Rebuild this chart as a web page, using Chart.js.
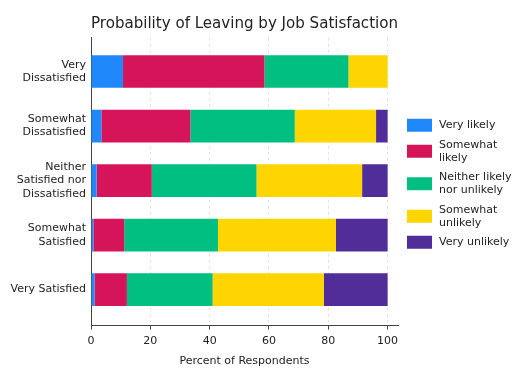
<!DOCTYPE html>
<html lang="en">
<head>
    <meta charset="UTF-8">
    <title>Probability of Leaving by Job Satisfaction</title>
    <script src="https://cdn.jsdelivr.net/npm/chart.js"></script>
    <style>
        html, body { margin: 0; padding: 0; background: #fff; }
        #wrap { width: 528px; height: 384px; position: relative; }
    </style>
</head>
<body>
<div id="wrap"><canvas id="chart"></canvas></div>
<script>
    // Data (percent of respondents)
    const categories = [
        ['Very', 'Dissatisfied'],
        ['Somewhat', 'Dissatisfied'],
        ['Neither', 'Satisfied nor', 'Dissatisfied'],
        ['Somewhat', 'Satisfied'],
        ['Very Satisfied']
    ];
    const seriesNames = [
        ['Very likely'],
        ['Somewhat', 'likely'],
        ['Neither likely', 'nor unlikely'],
        ['Somewhat', 'unlikely'],
        ['Very unlikely']
    ];
    const veryLikely       = [10.8, 3.5, 1.9, 0.8, 1.2];
    const somewhatLikely   = [47.7, 30.0, 18.6, 10.4, 10.9];
    const neither          = [28.3, 35.2, 35.3, 31.6, 28.9];
    const somewhatUnlikely = [13.2, 27.4, 35.6, 39.8, 37.5];
    const veryUnlikely     = [0.0, 3.9, 8.6, 17.4, 21.5];
    const xTicks = [0, 20, 40, 60, 80, 100];

    const colors = ['#1f88fb', '#d61459', '#00bf80', '#ffd500', '#512d9a'];
    const series = [veryLikely, somewhatLikely, neither, somewhatUnlikely, veryUnlikely];
    const FONT = '"DejaVu Sans", sans-serif';
    const TEXT = '#222';

    // Legend drawn on the canvas so labels can wrap like the original
    const sideLegend = {
        id: 'sideLegend',
        afterDraw(chart) {
            const ctx = chart.ctx;
            const lineH = 13;
            let y = 115.5;
            ctx.save();
            ctx.font = '11px ' + FONT;
            ctx.textBaseline = 'middle';
            seriesNames.forEach((lines, i) => {
                const h = lines.length * lineH + 6.5;
                const cy = y + h / 2;
                ctx.fillStyle = colors[i];
                ctx.fillRect(407, cy - 6.5, 25, 13);
                ctx.fillStyle = TEXT;
                lines.forEach((t, j) => {
                    ctx.fillText(t, 439, cy + (j - (lines.length - 1) / 2) * lineH);
                });
                y += h;
            });
            ctx.restore();
        }
    };

    new Chart(document.getElementById('chart'), {
        type: 'bar',
        data: {
            datasets: series.map((vals, i) => ({
                label: seriesNames[i].join(' '),
                data: vals.map((v, j) => ({ x: v, y: j })),
                backgroundColor: colors[i],
                borderWidth: 0,
                categoryPercentage: 0.6,
                barPercentage: 1.0
            }))
        },
        options: {
            indexAxis: 'y',
            responsive: true,
            maintainAspectRatio: false,
            animation: false,
            layout: { padding: { top: 2, right: 130, bottom: 12, left: 0 } },
            plugins: {
                legend: { display: false },
                tooltip: { enabled: false },
                title: {
                    display: true,
                    text: 'Probability of Leaving by Job Satisfaction',
                    fullSize: false,
                    color: TEXT,
                    font: { family: FONT, size: 16, weight: 'normal' },
                    padding: { top: 12.5, bottom: 4 }
                }
            },
            scales: {
                x: {
                    type: 'linear',
                    stacked: true,
                    min: 0,
                    max: 103.5,
                    afterBuildTicks: s => { s.ticks = xTicks.map(v => ({ value: v })); },
                    grid: {
                        color: '#e3e3e3',
                        tickColor: '#444',
                        tickLength: 4
                    },
                    border: { color: '#444', dash: [3, 3] },
                    ticks: { color: TEXT, font: { family: FONT, size: 11 }, padding: 5, maxRotation: 0 },
                    title: {
                        display: true,
                        text: 'Percent of Respondents',
                        color: TEXT,
                        font: { family: FONT, size: 11 },
                        padding: { top: 2, bottom: 4 }
                    }
                },
                y: {
                    type: 'linear',
                    stacked: true,
                    reverse: true,
                    offset: false,
                    min: -0.62,
                    max: 4.66,
                    afterBuildTicks: s => { s.ticks = categories.map((c, i) => ({ value: i })); },
                    afterFit: s => { s.width = 91; },
                    grid: { display: false, drawTicks: false, offset: false },
                    border: { display: true, color: '#444' },
                    ticks: {
                        color: TEXT,
                        font: { family: FONT, size: 11 },
                        padding: 5,
                        callback: v => categories[v]
                    }
                }
            }
        },
        plugins: [sideLegend]
    });
</script>
</body>
</html>
